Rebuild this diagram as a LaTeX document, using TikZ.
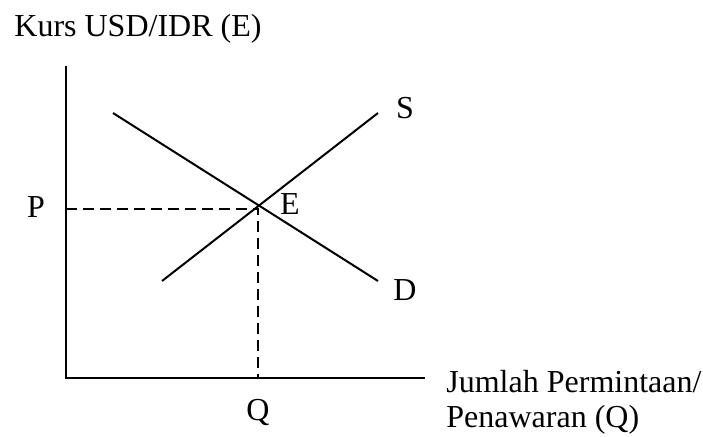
\documentclass[tikz,border=0pt]{standalone}
\usepackage{fontspec}
\setmainfont{Liberation Serif}
\begin{document}
\begin{tikzpicture}[x=0.5pt,y=-0.5pt,
  lbl/.style={inner sep=0pt,font=\fontsize{16}{19}\selectfont},
  axis/.style={line width=1.4pt},
  curve/.style={line width=1pt},
  guide/.style={line width=1.3pt,dash pattern=on 5.5pt off 3pt}]
\useasboundingbox (0,0) rectangle (703,436);
\coordinate (O) at (66,378);
\coordinate (Ytop) at (66,66);
\coordinate (Xend) at (425,378);
\coordinate (D1) at (113,113);
\coordinate (D2) at (378,281);
\coordinate (S1) at (162,281);
\coordinate (S2) at (378,113);
\coordinate (Eq) at (258,209);
\coordinate (Py) at (66,209);
\coordinate (Qx) at (258,378);
\draw[axis] (Ytop) -- (O) -- (Xend);
\draw[curve] (D1) -- (D2);
\draw[curve] (S1) -- (S2);
\draw[guide] (Py) -- (Eq) -- (Qx);
\node[lbl,anchor=base west] (title) at (14,36) {Kurs USD/IDR (E)};
\node[lbl] (P) at (36,207) {P};
\node[lbl] (E) at (290,204) {E};
\node[lbl] (S) at (405,108) {S};
\node[lbl] (D) at (405,290) {D};
\node[lbl] (Q) at (258,412) {Q};
\node[lbl,anchor=base west] (xl1) at (446,392) {Jumlah Permintaan/};
\node[lbl,anchor=base west] (xl2) at (446,427) {Penawaran (Q)};
\end{tikzpicture}
\end{document}
